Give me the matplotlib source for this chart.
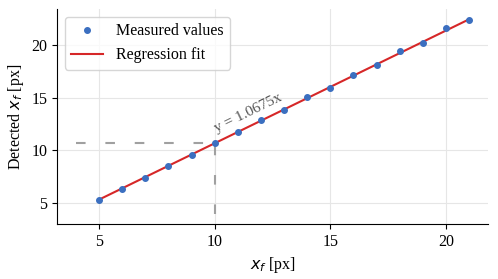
import numpy as np
import matplotlib
matplotlib.use("Agg")
import matplotlib.pyplot as plt

# data
x_true = [5, 6, 7, 8, 9, 10, 11, 12, 13, 14, 15, 16, 17, 18, 19, 20, 21]
x_detected = [5.28, 6.35, 7.40, 8.53, 9.55, 10.71, 11.73, 12.89, 13.81, 15.04,
              15.93, 17.16, 18.08, 19.37, 20.19, 21.55, 22.31]
slope = 1.0675
x_ref = 10

plt.rcParams.update({
    "font.family": ["Liberation Serif", "DejaVu Serif"],
    "font.size": 11.5,
    "mathtext.fontset": "dejavusans",
})

fig = plt.figure(figsize=(4.98, 2.79), dpi=100)
ax = fig.add_axes([0.1145, 0.197, 0.8655, 0.771])

xs = np.array(x_true, dtype=float)
ax.plot(xs, slope * xs, color="#d62728", lw=1.5, zorder=2, label="Regression fit")
ax.plot(x_true, x_detected, "o", color="#3b6fc0", ms=4, zorder=3, label="Measured values")

y_ref = slope * x_ref
dash = (0, (4.6, 9.5))
ax.plot([4, x_ref], [y_ref, y_ref], ls=dash, color="#a0a0a0", lw=1.5, zorder=1)
ax.plot([x_ref, x_ref], [4, y_ref], ls=dash, color="#a0a0a0", lw=1.5, zorder=1)

ax.text(10.1, 11.75, f"y = {slope}x", rotation=26, color="#555555",
        fontsize=11, ha="left", va="baseline", rotation_mode="anchor")

ax.set_xlim(3.18, 21.82)
ax.set_ylim(3.02, 23.4)
ax.set_xticks([5, 10, 15, 20])
ax.set_yticks([5, 10, 15, 20])
ax.grid(True, color="#e6e6e6", lw=0.8)
ax.set_axisbelow(True)
for s in ("top", "right"):
    ax.spines[s].set_visible(False)

ax.set_xlabel("$x_f$ [px]")
ax.set_ylabel("Detected $x_f$ [px]")

h, l = ax.get_legend_handles_labels()
ax.legend(h[::-1], l[::-1], loc="upper left")

fig.savefig("out.png", dpi=100)
